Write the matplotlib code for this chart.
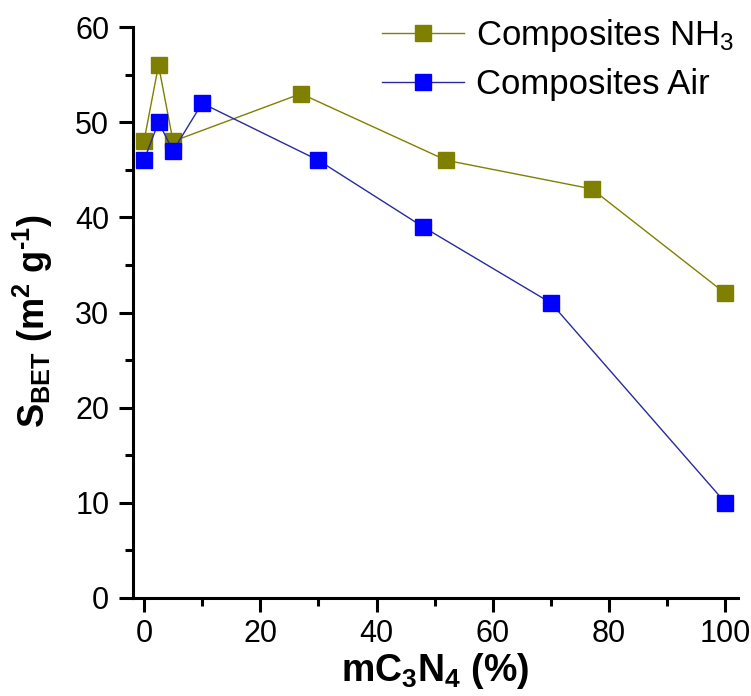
import matplotlib
matplotlib.use("Agg")
import matplotlib.pyplot as plt
from matplotlib.ticker import MultipleLocator

plt.rcParams['font.family'] = ['Liberation Sans', 'DejaVu Sans']
plt.rcParams['mathtext.default'] = 'regular'

x_nh3 = [0, 2.5, 5, 27, 52, 77, 100]
y_nh3 = [48, 56, 48, 53, 46, 43, 32]
x_air = [0, 2.5, 5, 10, 30, 48, 70, 100]
y_air = [46, 50, 47, 52, 46, 39, 31, 10]
labels = ['Composites NH$_3$', 'Composites Air']

fig = plt.figure(figsize=(7.51, 6.96), dpi=100)
ax = fig.add_axes([0.177, 0.141, 0.806, 0.820])

ax.plot(x_nh3, y_nh3, color='#808000', lw=1.0, marker='s', ms=11.5,
        mfc='#808000', mec='#808000', label=labels[0])
ax.plot(x_air, y_air, color='#2a2a9e', lw=1.0, marker='s', ms=11.5,
        mfc='#0000ff', mec='#0000ff', label=labels[1])

ax.set_xlim(-1.9, 102.2)
ax.set_ylim(0, 60)
ax.xaxis.set_major_locator(MultipleLocator(20))
ax.xaxis.set_minor_locator(MultipleLocator(10))
ax.yaxis.set_major_locator(MultipleLocator(10))
ax.yaxis.set_minor_locator(MultipleLocator(5))

for s in ['top', 'right']:
    ax.spines[s].set_visible(False)
for s in ['left', 'bottom']:
    ax.spines[s].set_linewidth(2.2)

ax.tick_params(which='major', direction='out', length=10, width=2.2,
               labelsize=22, pad=5)
ax.tick_params(axis='y', which='major', pad=7)
ax.tick_params(which='minor', direction='out', length=5.5, width=2.2)

ax.set_xlabel('mC$_3$N$_4$ (%)', fontsize=27, fontweight='bold', labelpad=2)
ax.set_ylabel('S$_{BET}$ (m$^2$ g$^{\u2010 1}$)', fontsize=26, fontweight='bold',
              labelpad=14)
ax.yaxis.set_label_coords(-0.128, 0.485)

leg = ax.legend(loc='upper left', bbox_to_anchor=(0.509, 0.975),
                bbox_transform=fig.transFigure, frameon=False,
                fontsize=25, handlelength=2.36, handletextpad=0.35,
                labelspacing=0.4, borderaxespad=0.0, borderpad=0.0)

fig.savefig('out.png', dpi=100)
